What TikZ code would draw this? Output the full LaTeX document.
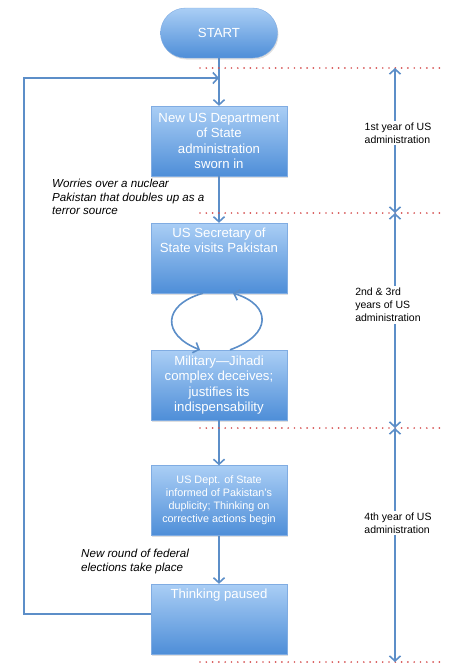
\documentclass[tikz,border=0pt]{standalone}
\usepackage{fontspec}
\setmainfont{Liberation Sans}
\usetikzlibrary{shapes,arrows,arrows.meta,positioning,calc,shadows}

\definecolor{boxtop}{RGB}{170,206,245}
\definecolor{boxbot}{RGB}{78,142,216}
\definecolor{boxrim}{RGB}{128,172,226}
\definecolor{flowblue}{RGB}{92,142,200}
\definecolor{dotred}{RGB}{214,84,84}

\tikzset{
  box/.style={rectangle, draw=boxrim, top color=boxtop, bottom color=boxbot,
    minimum width=136pt, minimum height=70pt, text=white, align=center,
    font=\fontsize{13.2}{15.3}\selectfont,
    drop shadow={opacity=0.25, shadow xshift=1pt, shadow yshift=-1.5pt}},
  boxtext/.style={text=white, align=center, inner sep=5pt, font=\fontsize{13.2}{15.3}\selectfont},
  tip/.style={-{Straight Barb[length=5pt,width=11pt,line width=1.6pt]}},
  flow/.style={tip, flowblue, line width=1.6pt},
  yearline/.style={dotred, line width=1.9pt, line cap=round, dash pattern=on 0pt off 6.3pt},
  yearspan/.style={{Straight Barb[length=5pt,width=11pt,line width=1.6pt]}-{Straight Barb[length=5pt,width=11pt,line width=1.6pt]}, flowblue, line width=1.6pt},
  yeartext/.style={fill=white, align=left, inner xsep=3pt, inner ysep=2pt, font=\fontsize{10.5}{13}\selectfont},
  note/.style={align=left, anchor=north west, inner sep=0pt, font=\fontsize{11.6}{13.6}\selectfont\itshape},
}

\begin{document}
\begin{tikzpicture}[x=1pt, y=-1pt]
    \useasboundingbox (0,0) rectangle (462,667);

    % flow boxes
    \node[box, rounded corners=25pt, minimum width=117pt, minimum height=50pt] (start) at (219,33) {START};
    \node[box] (b1) at (219,141) {New US Department\\of State\\administration\\sworn in};
    \node[box] (b2) at (219,258) {};
    \node[boxtext, anchor=north] (b2txt) at (b2.north) {US Secretary of\\State visits Pakistan};
    \node[box] (b3) at (219,385) {Military---Jihadi\\complex deceives;\\justifies its\\indispensability};
    \node[box, font=\fontsize{10.8}{13}\selectfont] (b4) at (219,500.5) {US Dept. of State\\informed of Pakistan's\\duplicity; Thinking on\\corrective actions begin};
    \node[box] (b5) at (219,619) {};
    \node[boxtext, anchor=north] (b5txt) at (b5.north) {Thinking paused};

    % notes beside the flow
    \node[note] (n1) at (52,179) {Worries over a nuclear\\Pakistan that doubles up as a\\terror source};
    \node[note] (n2) at (81,549) {New round of federal\\elections take place};

    % connectors
    \coordinate (loopin) at (219,78);
    \draw[flow] (start) -- (b1);
    \draw[flow] (b1) -- (b2);
    \draw[flow] (b3) -- (b4);
    \draw[flow] (b4) -- (b5);
    \draw[flow] ([xshift=-16pt]b2.south) .. controls (162,305) and (162,335) .. ([xshift=-19pt]b3.north);
    \draw[flow] ([xshift=11pt]b3.north) .. controls (272,335) and (272,305) .. ([xshift=14pt]b2.south);
    \draw[flow] ([yshift=5pt]b5.west) -- ++(-127,0) |- (loopin);

    % years of the administration
    \foreach \y in {68,213,428,662} {
        \draw[yearline] (200,\y) -- (443,\y);
    }
    \coordinate (y0) at (395,68);
    \coordinate (y1) at (395,213);
    \coordinate (y2) at (395,428);
    \coordinate (y3) at (395,662);
    \draw[yearspan] (y0) -- (y1);
    \draw[yearspan] (y1) -- (y2);
    \draw[yearspan] (y2) -- (y3);
    \node[yeartext] (t1) at (398,133) {1st year of US\\administration};
    \node[yeartext] (t2) at (388,305) {2nd \& 3rd\\years of US\\administration};
    \node[yeartext] (t3) at (398,523) {4th year of US\\administration};
\end{tikzpicture}
\end{document}
